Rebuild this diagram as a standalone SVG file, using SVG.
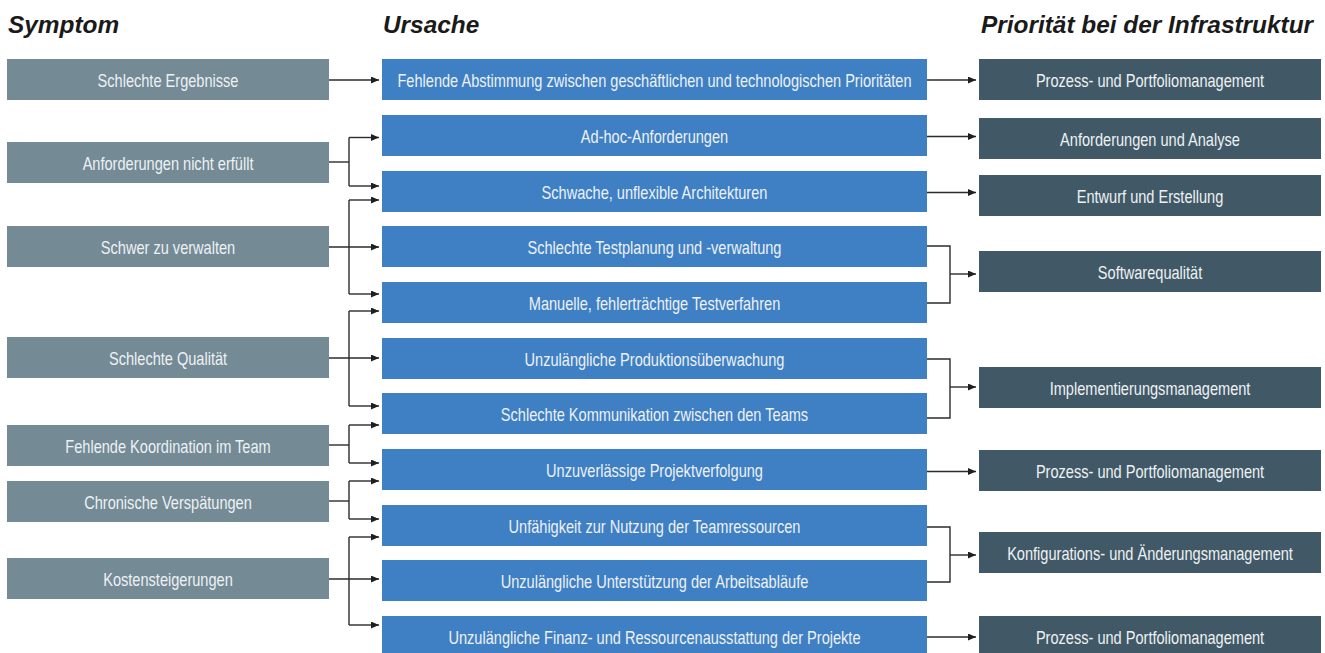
<svg xmlns="http://www.w3.org/2000/svg" width="1325" height="653" viewBox="0 0 1325 653">
<style>
.hd{font-family:"Liberation Sans",Arial,sans-serif;font-weight:bold;font-style:italic;font-size:24.4px;fill:#1a1a1a}
.t{font-family:"Liberation Sans",Arial,sans-serif;font-size:18px;fill:#edf1f4;text-anchor:middle;transform-box:fill-box;transform-origin:center;transform:scaleX(0.81)}
.s rect{fill:#748a94}
.c rect{fill:#3f80c4}
.p rect{fill:#415966}
.ln{fill:none;stroke:#2b2b2b;stroke-width:1.4}
</style>
<defs>
<marker id="ah" viewBox="0 0 8 7" refX="8" refY="3.5" markerWidth="8" markerHeight="7" markerUnits="userSpaceOnUse" orient="auto">
<path d="M0,0 L8,3.5 L0,7 z" fill="#1f1f1f"/>
</marker>
</defs>
<rect width="1325" height="653" fill="#ffffff"/>
<g id="headers">
<text class="hd" x="8" y="33">Symptom</text>
<text class="hd" x="383" y="33">Ursache</text>
<text class="hd" x="981" y="33">Priorität bei der Infrastruktur</text>
</g>
<g id="symptoms">
<g id="s1" class="s"><rect x="7" y="59" width="322" height="41"/><text class="t" x="168" y="86.7">Schlechte Ergebnisse</text></g>
<g id="s2" class="s"><rect x="7" y="142" width="322" height="41"/><text class="t" x="168" y="169.7">Anforderungen nicht erfüllt</text></g>
<g id="s3" class="s"><rect x="7" y="226" width="322" height="41"/><text class="t" x="168" y="253.7">Schwer zu verwalten</text></g>
<g id="s4" class="s"><rect x="7" y="337" width="322" height="41"/><text class="t" x="168" y="364.7">Schlechte Qualität</text></g>
<g id="s5" class="s"><rect x="7" y="425" width="322" height="41"/><text class="t" x="168" y="452.7">Fehlende Koordination im Team</text></g>
<g id="s6" class="s"><rect x="7" y="481" width="322" height="41"/><text class="t" x="168" y="508.7">Chronische Verspätungen</text></g>
<g id="s7" class="s"><rect x="7" y="558" width="322" height="41"/><text class="t" x="168" y="585.7">Kostensteigerungen</text></g>
</g>
<g id="causes">
<g id="c0" class="c"><rect x="382" y="59" width="545" height="41"/><text class="t" x="654.5" y="86.7">Fehlende Abstimmung zwischen geschäftlichen und technologischen Prioritäten</text></g>
<g id="c1" class="c"><rect x="382" y="115" width="545" height="41"/><text class="t" x="654.5" y="142.7">Ad-hoc-Anforderungen</text></g>
<g id="c2" class="c"><rect x="382" y="171" width="545" height="41"/><text class="t" x="654.5" y="198.7">Schwache, unflexible Architekturen</text></g>
<g id="c3" class="c"><rect x="382" y="226" width="545" height="41"/><text class="t" x="654.5" y="253.7">Schlechte Testplanung und -verwaltung</text></g>
<g id="c4" class="c"><rect x="382" y="282" width="545" height="41"/><text class="t" x="654.5" y="309.7">Manuelle, fehlerträchtige Testverfahren</text></g>
<g id="c5" class="c"><rect x="382" y="338" width="545" height="41"/><text class="t" x="654.5" y="365.7">Unzulängliche Produktionsüberwachung</text></g>
<g id="c6" class="c"><rect x="382" y="393" width="545" height="41"/><text class="t" x="654.5" y="420.7">Schlechte Kommunikation zwischen den Teams</text></g>
<g id="c7" class="c"><rect x="382" y="449" width="545" height="41"/><text class="t" x="654.5" y="476.7">Unzuverlässige Projektverfolgung</text></g>
<g id="c8" class="c"><rect x="382" y="505" width="545" height="41"/><text class="t" x="654.5" y="532.7">Unfähigkeit zur Nutzung der Teamressourcen</text></g>
<g id="c9" class="c"><rect x="382" y="560" width="545" height="41"/><text class="t" x="654.5" y="587.7">Unzulängliche Unterstützung der Arbeitsabläufe</text></g>
<g id="c10" class="c"><rect x="382" y="616" width="545" height="41"/><text class="t" x="654.5" y="643.7">Unzulängliche Finanz- und Ressourcenausstattung der Projekte</text></g>
</g>
<g id="priorities">
<g id="p1" class="p"><rect x="979" y="59" width="342" height="41"/><text class="t" x="1150" y="86.7">Prozess- und Portfoliomanagement</text></g>
<g id="p2" class="p"><rect x="979" y="118" width="342" height="41"/><text class="t" x="1150" y="145.7">Anforderungen und Analyse</text></g>
<g id="p3" class="p"><rect x="979" y="175" width="342" height="41"/><text class="t" x="1150" y="202.7">Entwurf und Erstellung</text></g>
<g id="p4" class="p"><rect x="979" y="251" width="342" height="41"/><text class="t" x="1150" y="278.7">Softwarequalität</text></g>
<g id="p5" class="p"><rect x="979" y="367" width="342" height="41"/><text class="t" x="1150" y="394.7">Implementierungsmanagement</text></g>
<g id="p6" class="p"><rect x="979" y="450" width="342" height="41"/><text class="t" x="1150" y="477.7">Prozess- und Portfoliomanagement</text></g>
<g id="p7" class="p"><rect x="979" y="532" width="342" height="41"/><text class="t" x="1150" y="559.7">Konfigurations- und Änderungsmanagement</text></g>
<g id="p8" class="p"><rect x="979" y="616" width="342" height="41"/><text class="t" x="1150" y="643.7">Prozess- und Portfoliomanagement</text></g>
</g>
<g id="connectors">
<path class="ln" d="M329,80 H379" marker-end="url(#ah)"/>
<path class="ln" d="M329,162 H349"/>
<path class="ln" d="M349,137.5 V186"/>
<path class="ln" d="M349,137.5 H379" marker-end="url(#ah)"/>
<path class="ln" d="M349,186 H379" marker-end="url(#ah)"/>
<path class="ln" d="M329,247 H379" marker-end="url(#ah)"/>
<path class="ln" d="M349,200 V294"/>
<path class="ln" d="M349,200 H379" marker-end="url(#ah)"/>
<path class="ln" d="M349,294 H379" marker-end="url(#ah)"/>
<path class="ln" d="M329,358 H379" marker-end="url(#ah)"/>
<path class="ln" d="M349,311 V406"/>
<path class="ln" d="M349,311 H379" marker-end="url(#ah)"/>
<path class="ln" d="M349,406 H379" marker-end="url(#ah)"/>
<path class="ln" d="M329,445 H349"/>
<path class="ln" d="M349,425 V463"/>
<path class="ln" d="M349,425 H379" marker-end="url(#ah)"/>
<path class="ln" d="M349,463 H379" marker-end="url(#ah)"/>
<path class="ln" d="M329,501 H349"/>
<path class="ln" d="M349,481 V519"/>
<path class="ln" d="M349,481 H379" marker-end="url(#ah)"/>
<path class="ln" d="M349,519 H379" marker-end="url(#ah)"/>
<path class="ln" d="M329,579 H379" marker-end="url(#ah)"/>
<path class="ln" d="M349,537 V625"/>
<path class="ln" d="M349,537 H379" marker-end="url(#ah)"/>
<path class="ln" d="M349,625 H379" marker-end="url(#ah)"/>
<path class="ln" d="M927,80 H976" marker-end="url(#ah)"/>
<path class="ln" d="M927,136.5 H976" marker-end="url(#ah)"/>
<path class="ln" d="M927,192.5 H976" marker-end="url(#ah)"/>
<path class="ln" d="M927,246 H950 V303 H927"/>
<path class="ln" d="M950,274 H976" marker-end="url(#ah)"/>
<path class="ln" d="M927,359 H950 V418 H927"/>
<path class="ln" d="M950,387 H976" marker-end="url(#ah)"/>
<path class="ln" d="M927,471.5 H976" marker-end="url(#ah)"/>
<path class="ln" d="M927,527 H950 V582 H927"/>
<path class="ln" d="M950,555 H976" marker-end="url(#ah)"/>
<path class="ln" d="M927,637 H976" marker-end="url(#ah)"/>
</g>
</svg>
